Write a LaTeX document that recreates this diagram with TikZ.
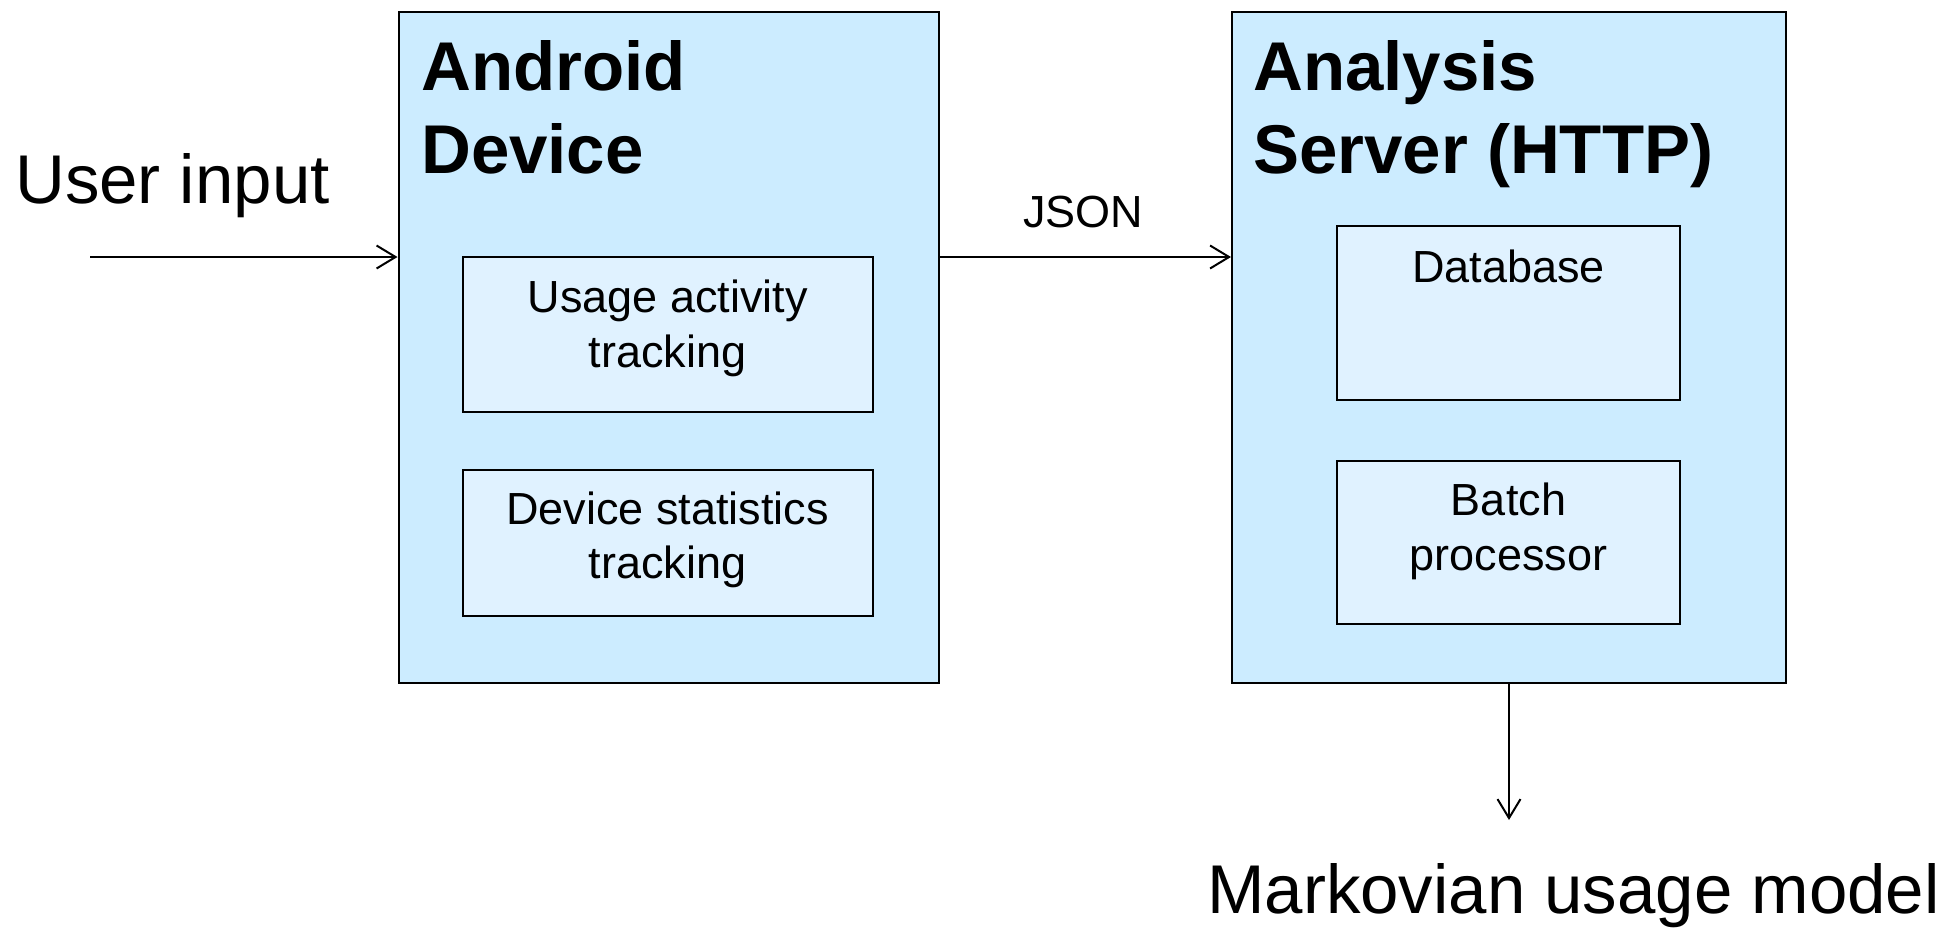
\documentclass[tikz,border=0pt]{standalone}
\usepackage{fontspec}
\setmainfont{Liberation Sans}
\usetikzlibrary{arrows.meta}
\definecolor{outerfill}{RGB}{204,236,255}
\definecolor{innerfill}{RGB}{224,242,255}
\tikzset{
  outerbox/.style={draw=black, fill=outerfill, line width=2pt, rectangle, inner sep=0pt},
  innerbox/.style={draw=black, fill=innerfill, line width=2pt, rectangle, inner sep=0pt},
  titletext/.style={anchor=base west, inner sep=0pt, font=\fontsize{69}{84}\selectfont\bfseries},
  bigtext/.style={inner sep=0pt, font=\fontsize{69}{80}\selectfont},
  smalltext/.style={anchor=base, inner sep=0pt, font=\fontsize{45}{55}\selectfont},
  flow/.style={line width=2pt, -{Straight Barb[length=19pt,width=23pt,line width=2pt]}}
}
\begin{document}
\begin{tikzpicture}[x=1pt,y=-1pt]
\useasboundingbox (0,0) rectangle (1955,927);
% main boxes
\node[outerbox, minimum width=540.5pt, minimum height=670.5pt] (and) at (668.75,347.25) {};
\node[outerbox, minimum width=554pt, minimum height=670.5pt] (srv) at (1509,347.25) {};
% inner boxes
\node[innerbox, minimum width=409.5pt, minimum height=155pt] (ua) at (667.75,334.5) {};
\node[innerbox, minimum width=409.5pt, minimum height=146.5pt] (ds) at (667.75,542.75) {};
\node[innerbox, minimum width=343pt, minimum height=174pt] (db) at (1508.5,313) {};
\node[innerbox, minimum width=343pt, minimum height=163pt] (bp) at (1508.5,542.5) {};
% titles
\node[titletext] (t1a) at (421,90) {Android};
\node[titletext] (t1b) at (421,173) {Device};
\node[titletext] (t2a) at (1253,90) {Analysis};
\node[titletext] (t2b) at (1253,173) {Server (HTTP)};
% inner texts
\node[smalltext] (ua1) at (667.75,312) {Usage activity};
\node[smalltext] (ua2) at (667.75,367) {tracking};
\node[smalltext] (ds1) at (667.75,524) {Device statistics};
\node[smalltext] (ds2) at (667.75,578.5) {tracking};
\node[smalltext] (db1) at (1508.5,282) {Database};
\node[smalltext] (bp1) at (1508.5,515) {Batch};
\node[smalltext] (bp2) at (1508.5,570) {processor};
% outside labels
\node[bigtext, anchor=base west] (uin) at (15,203) {User input};
\node[smalltext] (json) at (1083,227) {JSON};
\node[bigtext, anchor=base west] (mk) at (1207,913) {Markovian usage model};
% connectors
\coordinate (inStart) at (90,257);
\coordinate (mkEnd) at (1509,820);
\draw[flow] (inStart) -- (inStart -| and.west);
\draw[flow] (inStart -| and.east) -- (inStart -| srv.west);
\draw[flow] (srv.south) -- (mkEnd);
\end{tikzpicture}
\end{document}
